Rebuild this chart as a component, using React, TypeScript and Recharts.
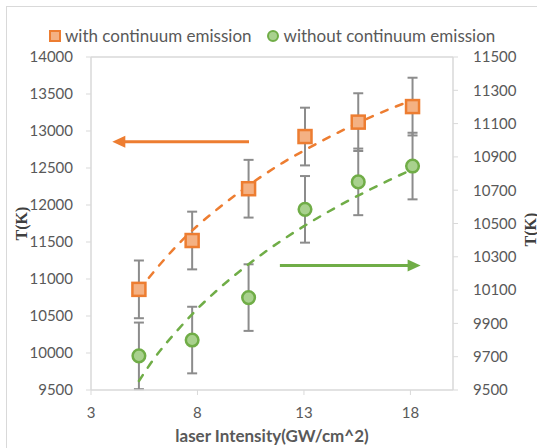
import React from 'react';
import {
  ComposedChart,
  Scatter,
  Line,
  XAxis,
  YAxis,
  ErrorBar,
  ReferenceLine,
  Legend,
} from 'recharts';

// ---- data ----
const intensity = [5.25, 7.75, 10.4, 13.05, 15.55, 18.1];
const withContinuum = [10860, 11520, 12220, 12925, 13120, 13330];
const withErr = [390, 390, 390, 390, 390, 390];
const withoutContinuum = [9705, 9800, 10055, 10585, 10750, 10845];
const withoutErr = [200, 200, 200, 200, 200, 200];

const trendX = [5.25, 6, 7, 8, 9, 10, 11, 12, 13, 14, 15, 16, 17, 18.1];
const trendWith = [10845, 11115, 11440, 11720, 11960, 12180, 12385, 12570, 12735, 12890, 13035, 13170, 13295, 13415];
const trendWithout = [9554, 9695, 9850, 9988, 10108, 10215, 10313, 10402, 10484, 10560, 10631, 10697, 10760, 10826];

const xTicks = [3, 8, 13, 18];
const leftTicks = [9500, 10000, 10500, 11000, 11500, 12000, 12500, 13000, 13500, 14000];
const rightTicks = [9500, 9700, 9900, 10100, 10300, 10500, 10700, 10900, 11100, 11300, 11500];

const leftArrowX = [10.42, 4.0];
const leftArrowY = 12855;
const rightArrowX = [11.87, 18.48];
const rightArrowY = 10248;

// ---- tables built from the arrays ----
const withData = intensity.map((x, i) => ({ x, y: withContinuum[i], err: withErr[i] }));
const withoutData = intensity.map((x, i) => ({ x, y: withoutContinuum[i], err: withoutErr[i] }));
const trendWithData = trendX.map((x, i) => ({ x, y: trendWith[i] }));
const trendWithoutData = trendX.map((x, i) => ({ x, y: trendWithout[i] }));

const ORANGE = '#ED7D31';
const ORANGE_FILL = '#F4B183';
const GREEN = '#70AD47';
const GREEN_FILL = '#A9D18E';
const AXIS = '#D9D9D9';
const TEXT = '#595959';
const FONT = 'Lato, "Open Sans", sans-serif';

const SquareDot = (props: any) => {
  const { cx, cy } = props;
  if (cx == null || cy == null) return null;
  return (
    <rect x={cx - 6.5} y={cy - 6.5} width={13} height={13} fill={ORANGE_FILL} stroke={ORANGE} strokeWidth={2.5} />
  );
};

const CircleDot = (props: any) => {
  const { cx, cy } = props;
  if (cx == null || cy == null) return null;
  return <circle cx={cx} cy={cy} r={6.3} fill={GREEN_FILL} stroke={GREEN} strokeWidth={2.5} />;
};

const makeArrow = (color: string) => (props: any) => {
  const { x1, y1, x2, y2 } = props;
  if ([x1, y1, x2, y2].some((v) => v == null || isNaN(v))) return null;
  const dx = x2 - x1;
  const dy = y2 - y1;
  const len = Math.hypot(dx, dy) || 1;
  const ux = dx / len;
  const uy = dy / len;
  const head = 13;
  const half = 6;
  const bx = x2 - ux * head;
  const by = y2 - uy * head;
  const px = -uy;
  const py = ux;
  return (
    <g>
      <line x1={x1} y1={y1} x2={bx + ux} y2={by + uy} stroke={color} strokeWidth={3} />
      <polygon
        points={`${x2},${y2} ${bx + px * half},${by + py * half} ${bx - px * half},${by - py * half}`}
        fill={color}
      />
    </g>
  );
};

const renderLegend = () => (
  <div
    style={{
      display: 'flex',
      alignItems: 'center',
      fontFamily: FONT,
      fontSize: 17,
      color: TEXT,
      paddingLeft: 49,
      whiteSpace: 'nowrap',
      lineHeight: '20px',
    }}
  >
    <span
      style={{
        display: 'inline-block',
        width: 12,
        height: 12,
        boxSizing: 'border-box',
        background: ORANGE_FILL,
        border: `2px solid ${ORANGE}`,
        marginRight: 4,
      }}
    />
    <span>with continuum emission</span>
    <span
      style={{
        display: 'inline-block',
        width: 12,
        height: 12,
        boxSizing: 'border-box',
        borderRadius: '50%',
        background: GREEN_FILL,
        border: `2px solid ${GREEN}`,
        marginLeft: 15,
        marginRight: 5,
      }}
    />
    <span>without continuum emission</span>
  </div>
);

const leftLabel = (props: any) => {
  const vb = props.viewBox || {};
  const cx = vb.x + 21.5;
  const cy = vb.y + vb.height / 2;
  return (
    <text
      x={cx}
      y={cy}
      transform={`rotate(-90, ${cx}, ${cy})`}
      textAnchor="middle"
      dominantBaseline="central"
      fontFamily='"Liberation Serif", "Times New Roman", serif'
      fontWeight="bold"
      fontSize={16}
      fill="#404040"
    >
      T(K)
    </text>
  );
};

const rightLabel = (props: any) => {
  const vb = props.viewBox || {};
  const cx = vb.x + 77;
  const cy = vb.y + vb.height / 2 + 6;
  return (
    <text
      x={cx}
      y={cy}
      transform={`rotate(-90, ${cx}, ${cy})`}
      textAnchor="middle"
      dominantBaseline="central"
      fontFamily='"Liberation Serif", "Times New Roman", serif'
      fontWeight="bold"
      fontSize={16}
      fill="#404040"
    >
      T(K)
    </text>
  );
};

export default function App() {
  const tickStyle = { fill: TEXT, fontSize: 15, fontFamily: FONT };
  return (
    <div
      style={{
        position: 'absolute',
        left: 0,
        top: 0,
        width: 537,
        height: 448,
        overflow: 'hidden',
        background: '#fff',
      }}
    >
      <div
        style={{
          position: 'absolute',
          left: 6,
          top: 6,
          width: 620,
          height: 620,
          border: `1px solid ${AXIS}`,
          boxSizing: 'border-box',
        }}
      />
      <ComposedChart width={537} height={448} margin={{ top: 57, right: 0, bottom: 0, left: 0 }}>
        <XAxis
          xAxisId="x"
          dataKey="x"
          type="number"
          domain={[3, 20]}
          ticks={xTicks}
          allowDataOverflow
          height={58}
          tick={tickStyle}
          tickSize={5}
          tickMargin={12}
          axisLine={{ stroke: AXIS, strokeWidth: 1.5 }}
          tickLine={{ stroke: AXIS }}
          label={{
            value: 'laser Intensity(GW/cm^2)',
            position: 'insideBottom',
            offset: 6,
            fill: TEXT,
            fontSize: 17,
            fontWeight: 'bold',
            fontFamily: FONT,
          }}
        />
        <YAxis
          yAxisId="left"
          orientation="left"
          type="number"
          domain={[9500, 14000]}
          ticks={leftTicks}
          allowDataOverflow
          width={91}
          tick={tickStyle}
          tickSize={5}
          tickMargin={13}
          axisLine={{ stroke: AXIS, strokeWidth: 1.5 }}
          tickLine={{ stroke: AXIS }}
          label={leftLabel}
        />
        <YAxis
          yAxisId="right"
          orientation="right"
          type="number"
          domain={[9500, 11500]}
          ticks={rightTicks}
          allowDataOverflow
          width={84}
          tick={tickStyle}
          tickSize={5}
          tickMargin={15}
          axisLine={{ stroke: AXIS, strokeWidth: 1.5 }}
          tickLine={{ stroke: AXIS }}
          label={rightLabel}
        />
        <ReferenceLine xAxisId="x" yAxisId="left" y={14000} stroke={AXIS} strokeWidth={1.5} />
        <Legend
          layout="horizontal"
          verticalAlign="middle"
          align="center"
          content={renderLegend}
          wrapperStyle={{ top: 26, left: 0, width: 537 }}
        />
        <Scatter
          name="with continuum emission"
          xAxisId="x"
          yAxisId="left"
          data={withData}
          dataKey="y"
          shape={SquareDot}
          isAnimationActive={false}
        >
          <ErrorBar dataKey="err" direction="y" width={5} stroke="#8C8C8C" strokeWidth={2} />
        </Scatter>
        <Scatter
          name="without continuum emission"
          xAxisId="x"
          yAxisId="right"
          data={withoutData}
          dataKey="y"
          shape={CircleDot}
          isAnimationActive={false}
        >
          <ErrorBar dataKey="err" direction="y" width={5} stroke="#8C8C8C" strokeWidth={2} />
        </Scatter>
        <Line
          xAxisId="x"
          yAxisId="left"
          data={trendWithData}
          dataKey="y"
          type="monotone"
          stroke={ORANGE}
          strokeWidth={2.5}
          strokeDasharray="7 9"
          strokeLinecap="round"
          dot={false}
          activeDot={false}
          legendType="none"
          isAnimationActive={false}
        />
        <Line
          xAxisId="x"
          yAxisId="right"
          data={trendWithoutData}
          dataKey="y"
          type="monotone"
          stroke={GREEN}
          strokeWidth={2.5}
          strokeDasharray="7 9"
          strokeLinecap="round"
          dot={false}
          activeDot={false}
          legendType="none"
          isAnimationActive={false}
        />
        <ReferenceLine
          xAxisId="x"
          yAxisId="left"
          segment={[
            { x: leftArrowX[0], y: leftArrowY },
            { x: leftArrowX[1], y: leftArrowY },
          ]}
          stroke={ORANGE}
          shape={makeArrow(ORANGE)}
        />
        <ReferenceLine
          xAxisId="x"
          yAxisId="right"
          segment={[
            { x: rightArrowX[0], y: rightArrowY },
            { x: rightArrowX[1], y: rightArrowY },
          ]}
          stroke={GREEN}
          shape={makeArrow(GREEN)}
        />
      </ComposedChart>
    </div>
  );
}
